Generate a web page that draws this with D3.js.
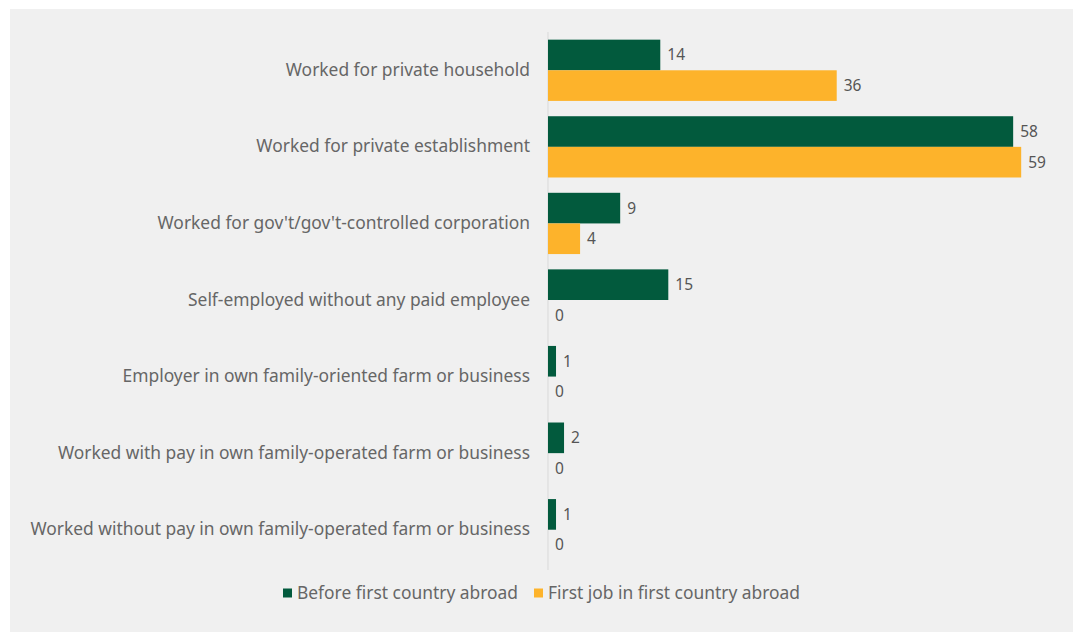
<!DOCTYPE html>
<html>
<head>
<meta charset="utf-8">
<script src="https://cdn.jsdelivr.net/npm/d3@7"></script>
<style>
  html, body { margin: 0; padding: 0; background: #ffffff; }
  svg { display: block; }
  text { font-family: "Noto Sans", "Open Sans", sans-serif; }
</style>
</head>
<body>
<svg id="chart" width="1074" height="632"></svg>
<script>
// Employment status categories, top to bottom
const categories = [
  "Worked for private household",
  "Worked for private establishment",
  "Worked for gov't/gov't-controlled corporation",
  "Self-employed without any paid employee",
  "Employer in own family-oriented farm or business",
  "Worked with pay in own family-operated farm or business",
  "Worked without pay in own family-operated farm or business"
];

// Percent of respondents per category
const beforeAbroad = [14, 58, 9, 15, 1, 2, 1];
const firstJobAbroad = [36, 59, 4, 0, 0, 0, 0];

const seriesNames = ["Before first country abroad", "First job in first country abroad"];
const seriesColors = ["#025a3d", "#fdb32b"];

const svg = d3.select("#chart");
const W = 1074, H = 632;

// Panel background
svg.append("rect")
  .attr("x", 10).attr("y", 9)
  .attr("width", W - 11).attr("height", H - 9)
  .attr("fill", "#f0f0f0");

const margin = { left: 548, top: 32, bottom: 64 };

const x = d3.scaleLinear()
  .domain([0, 60])
  .range([margin.left, margin.left + 60 * 8.02]);

const y = d3.scaleBand()
  .domain(categories)
  .range([margin.top, H - margin.bottom])
  .paddingInner(0.2)
  .paddingOuter(0.1);

const sub = d3.scaleBand()
  .domain([0, 1])
  .range([0, y.bandwidth()]);

const series = [beforeAbroad, firstJobAbroad];

// Category axis line
svg.append("line")
  .attr("x1", x(0)).attr("x2", x(0))
  .attr("y1", margin.top).attr("y2", H - margin.bottom + 2)
  .attr("stroke", "#d9d9d9")
  .attr("stroke-width", 1);

// Category labels
const yAxis = d3.axisLeft(y).tickSize(0).tickPadding(18);
const gAxis = svg.append("g")
  .attr("transform", `translate(${x(0)},0)`)
  .call(yAxis);
gAxis.select(".domain").remove();
gAxis.selectAll("text")
  .attr("fill", "#666666")
  .style("font-size", "17.4px");

// Bars and value labels
series.forEach((vals, si) => {
  const g = svg.append("g");
  g.selectAll("rect")
    .data(vals)
    .join("rect")
    .attr("x", x(0))
    .attr("y", (d, i) => y(categories[i]) + sub(si))
    .attr("width", d => x(d) - x(0))
    .attr("height", sub.bandwidth())
    .attr("fill", seriesColors[si]);

  g.selectAll("text")
    .data(vals)
    .join("text")
    .attr("x", d => x(d) + 7)
    .attr("y", (d, i) => y(categories[i]) + sub(si) + sub.bandwidth() / 2)
    .attr("dy", "0.35em")
    .attr("fill", "#555555")
    .style("font-size", "15.5px")
    .text(d => d);
});

// Legend
const legendItems = [
  { name: seriesNames[0], color: seriesColors[0], x: 283 },
  { name: seriesNames[1], color: seriesColors[1], x: 534 }
];
const lg = svg.append("g").selectAll("g")
  .data(legendItems)
  .join("g")
  .attr("transform", d => `translate(${d.x},593)`);
lg.append("rect")
  .attr("x", 0).attr("y", -4.5)
  .attr("width", 9).attr("height", 9)
  .attr("fill", d => d.color);
lg.append("text")
  .attr("x", 14)
  .attr("dy", "0.35em")
  .attr("fill", "#666666")
  .style("font-size", "17.4px")
  .text(d => d.name);
</script>
</body>
</html>
